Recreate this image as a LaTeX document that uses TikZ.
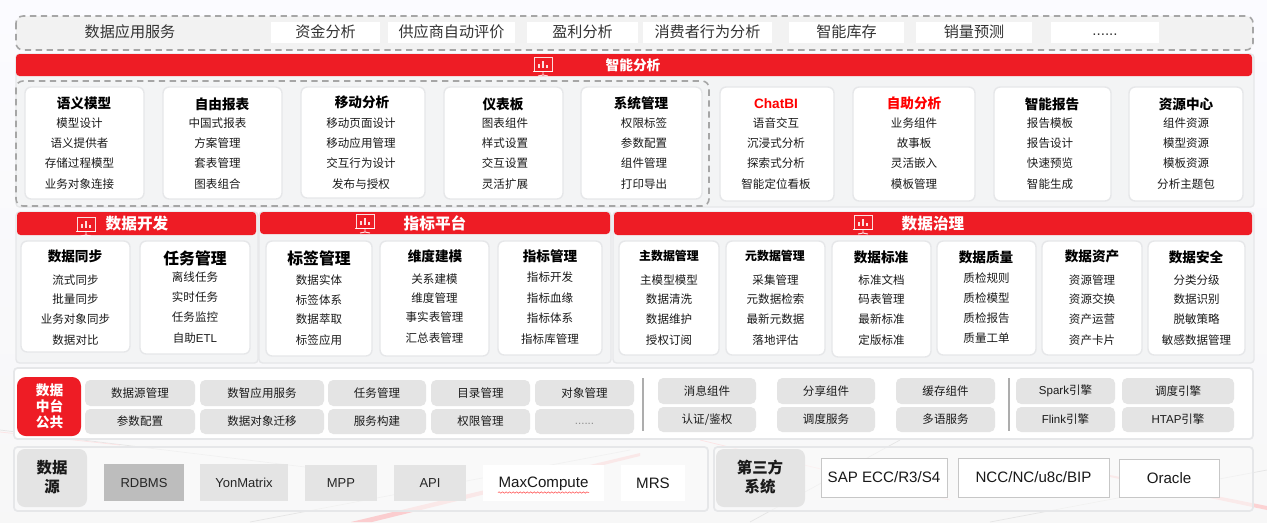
\documentclass[tikz,border=0pt]{standalone}
\usepackage{xcolor}
\usepackage{fontspec}
\setmainfont{Noto Sans CJK SC}
\newfontfamily\latfont{Liberation Sans}
\usetikzlibrary{decorations.pathmorphing}
\definecolor{brandred}{HTML}{EE1C25}
\definecolor{panelgray}{HTML}{F3F4F5}
\definecolor{panelline}{HTML}{E6E7E9}
\definecolor{boxgray}{HTML}{E4E4E4}
\definecolor{dashgray}{HTML}{A6A6A6}
\definecolor{textdark}{HTML}{1A1A1A}
\newcommand{\moredots}{{\latfont\vphantom{x}......}}
\tikzset{
    panel/.style={fill=panelgray,draw=panelline,line width=0.8pt,rounded corners=2pt},
    dashbox/.style={draw=dashgray,line width=0.9pt,dash pattern=on 3.6pt off 2.6pt,rounded corners=4pt},
    redbar/.style={fill=brandred,rounded corners=2pt},
    cardbox/.style={fill=white,draw=panelline,line width=0.8pt,rounded corners=3.5pt},
    graybox/.style={fill=boxgray,rounded corners=3pt},
    flatbox/.style={fill=boxgray},
    framebox/.style={fill=white,draw=black!22,line width=0.5pt},
    sepline/.style={draw=black!32,line width=1.1pt},
    item/.style={inner sep=0pt,text=textdark,font=\fontsize{6.55}{8}\selectfont},
    cardtitle/.style={inner sep=0pt,text=black,font=\fontsize{7.75}{9}\selectfont\bfseries},
    smalltitle/.style={cardtitle,font=\fontsize{6.8}{8}\selectfont\bfseries},
    bigtitle/.style={inner sep=0pt,text=black,font=\fontsize{9}{10}\selectfont\bfseries},
    redtitle/.style={cardtitle,text=red},
    toptext/.style={inner sep=0pt,text=black!80,font=\fontsize{8.6}{10}\selectfont},
    barlabel/.style={inner sep=0pt,text=white,font=\fontsize{8.9}{10}\selectfont\bfseries},
    srctext/.style={inner sep=0pt,text=black!85,font=\fontsize{7.4}{9}\latfont},
    srcbig/.style={inner sep=0pt,text=black!90,font=\fontsize{8.6}{10}\latfont},
    blocklabel/.style={inner sep=0pt,align=center,text=textdark,font=\fontsize{8.8}{11}\selectfont\bfseries},
}
\newcommand{\cardcol}[8][]{% item options, name, x0, x1, y0, y1, title node, rows
    \path[cardbox] (#3,#5) rectangle (#4,#6);
    #7
    \foreach \yy/\txt [count=\i] in {#8}
        \node[item,name=#2-\i,#1] at ({(#3+#4)/2},\yy) {\txt};
}
\newcommand{\boardicon}[3]{% name, x, y
    \begin{scope}[shift={(#2,#3)},draw=white,line width=0.55pt,opacity=0.85]
        \coordinate (#1) at (0,0);
        \draw (-9,-8) rectangle (9,6);
        \draw (-10,6) -- (10,6);
        \draw (0,6) -- (0,10) (0,10) -- (-5,11) (0,10) -- (5,11);
        \draw[line width=1pt] (-4,3) -- (-4,-1) (0,3) -- (0,-4) (4,3) -- (4,0);
    \end{scope}
}
\begin{document}
\begin{tikzpicture}[x=0.02cm,y=-0.02cm]
    \useasboundingbox (0,0) rectangle (1267,522);
    \shade[top color=white!96!blue!40!white,bottom color=black!3] (0,0) rectangle (1267,522);
    \fill[brandred!22] (351,522) -- (640,453) -- (640,456) -- (372,522) -- cycle;
    \fill[brandred!20] (1110,475) -- (1267,506) -- (1267,510) -- (1110,477) -- cycle;
    \draw[black!10] (0,430) -- (330,470) (750,522) -- (900,440) (990,522) -- (1267,470) (630,450) -- (250,522);
    \draw[brandred!12] (0,432) -- (120,445) (700,440) -- (950,500);

    % top row
    \path[fill=black!5,dashbox] (16,16) rectangle (1253,50);
    \node[toptext] (apptitle) at (130,32) {数据应用服务};
    \foreach \xa/\xb/\txt [count=\i] in {271/380/资金分析,388/515/供应商自动评价,527/638/盈利分析,643/772/消费者行为分析,789/904/智能库存,916/1032/销量预测,1051/1159/\moredots}{
        \fill[white] (\xa,22) rectangle (\xb,43);
        \node[toptext,name=app\i] at ({(\xa+\xb)/2},32) {\txt};
    }

    % analysis
    \path[panel] (16,54) rectangle (1254,207);
    \path[redbar] (16,54) rectangle (1252,76);
    \boardicon{iconai}{543}{65}
    \node[barlabel,font=\fontsize{7.8}{9}\selectfont\bfseries] (aititle) at (633,65) {智能分析};
    \path[dashbox] (16,81) rectangle (709,206);
    \cardcol[xshift=-0.1cm]{sem}{25}{144}{87}{199}{\node[cardtitle] (semt) at (84,103) {语义模型};}{123/模型设计,143/语义提供者,163/存储过程模型,184/业务对象连接}
    \cardcol[xshift=-0.1cm]{rep}{163}{282}{87}{199}{\node[cardtitle] (rept) at (222,104) {自由报表};}{123/中国式报表,143/方案管理,163/套表管理,184/图表组合}
    \cardcol[xshift=-0.04cm]{mob}{301}{425}{87}{198}{\node[cardtitle] (mobt) at (362,102) {移动分析};}{123/移动页面设计,143/移动应用管理,163/交互行为设计,184/发布与授权}
    \cardcol[xshift=0.03cm]{dash}{444}{563}{87}{199}{\node[cardtitle] (dasht) at (503,104) {仪表板};}{123/图表组件,143/样式设置,163/交互设置,184/灵活扩展}
    \cardcol[xshift=0.05cm]{sys}{581}{702}{87}{199}{\node[cardtitle] (syst) at (641,103) {系统管理};}{123/权限标签,143/参数配置,163/组件管理,184/打印导出}
    \cardcol[xshift=-0.02cm]{chat}{720}{834}{87}{201}{\node[redtitle,font=\fontsize{7.75}{9}\latfont\bfseries] (chatt) at (776,104) {ChatBI};}{123/语音交互,143/沉浸式分析,163/探索式分析,184/智能定位看板}
    \cardcol{self}{853}{975}{87}{201}{\node[redtitle] (selft) at (914,103) {自助分析};}{123/业务组件,143/故事板,163/灵活嵌入,184/模板管理}
    \cardcol[xshift=-0.05cm]{ins}{994}{1111}{87}{201}{\node[cardtitle] (inst) at (1052,104) {智能报告};}{123/报告模板,143/报告设计,163/快速预览,184/智能生成}
    \cardcol{res}{1129}{1243}{87}{201}{\node[cardtitle] (rest) at (1186,104) {资源中心};}{123/组件资源,143/模型资源,163/模板资源,184/分析主题包}

    % development
    \path[panel] (16,212) rectangle (258,363);
    \path[redbar] (17,212) rectangle (256,235);
    \boardicon{icondev}{86}{225}
    \node[barlabel] (devtitle) at (137,224) {数据开发};
    \cardcol{sync}{21}{130}{241}{352}{\node[cardtitle] (synct) at (75,256) {数据同步};}{280/流式同步,299/批量同步,319/业务对象同步,340/数据对比}
    \cardcol{task}{140}{250}{241}{354}{\node[bigtitle] (taskt) at (195,258) {任务管理};}{277/离线任务,297/实时任务,317/任务监控,338/{自助{\latfont ETL}}}

    % metrics
    \path[panel] (259,212) rectangle (611,363);
    \path[redbar] (260,212) rectangle (610,234);
    \boardicon{iconmet}{365}{222}
    \node[barlabel] (mettitle) at (435,223) {指标平台};
    \cardcol{tag}{266}{372}{241}{356}{\node[bigtitle] (tagt) at (319,258) {标签管理};}{280/数据实体,300/标签体系,319/数据萃取,340/标签应用}
    \cardcol{dim}{380}{489}{241}{356}{\node[cardtitle] (dimt) at (435,256) {维度建模};}{279/关系建模,298/维度管理,317/事实表管理,338/汇总表管理}
    \cardcol{met}{498}{602}{241}{355}{\node[cardtitle] (mett) at (550,256) {指标管理};}{277/指标开发,298/指标血缘,318/指标体系,339/指标库管理}

    % governance
    \path[panel] (613,212) rectangle (1254,363);
    \path[redbar] (614,212) rectangle (1252,235);
    \boardicon{icongov}{863}{223}
    \node[barlabel] (govtitle) at (933,224) {数据治理};
    \cardcol{mdm}{619}{719}{241}{355}{\node[smalltitle] (mdmt) at (669,256) {主数据管理};}{280/主模型模型,299/数据清洗,319/数据维护,340/授权订阅}
    \cardcol{meta}{726}{825}{241}{355}{\node[smalltitle] (metat) at (775,256) {元数据管理};}{280/采集管理,299/元数据检索,319/最新元数据,340/落地评估}
    \cardcol{std}{832}{931}{241}{357}{\node[cardtitle] (stdt) at (881,257) {数据标准};}{280/标准文档,299/码表管理,319/最新标准,340/定版标准}
    \cardcol{qual}{937}{1036}{241}{355}{\node[cardtitle] (qualt) at (986,257) {数据质量};}{278/质检规则,298/质检模型,318/质检报告,338/质量工单}
    \cardcol{asset}{1042}{1142}{241}{355}{\node[cardtitle] (assett) at (1092,256) {数据资产};}{280/资源管理,299/资源交换,319/资产运营,340/资产卡片}
    \cardcol{sec}{1148}{1245}{241}{355}{\node[cardtitle] (sect) at (1196,257) {数据安全};}{280/分类分级,299/数据识别,319/脱敏策略,340/敏感数据管理}

    % public services
    \path[fill=white,draw=panelline,line width=1pt,rounded corners=2pt] (14,368) rectangle (1253,439);
    \path[fill=brandred,rounded corners=5pt] (17,377) rectangle (81,436);
    \node[barlabel,align=center,font=\fontsize{7.8}{9.1}\selectfont\bfseries] (pubtitle) at (49.5,406) {数据\\中台\\公共};
    \foreach \xa/\xb/\ya/\yb/\txt [count=\i] in {85/195/380/406/数据源管理,200/324/380/406/数智应用服务,328/426/380/406/任务管理,431/530/380/406/目录管理,535/634/380/406/对象管理,85/195/409/434/参数配置,200/324/409/434/数据对象迁移,328/426/409/434/服务构建,431/530/409/434/权限管理,535/634/409/434/{\color{black!45}\moredots},658/756/378/404/消息组件,777/875/378/404/分享组件,896/995/378/404/缓存组件,658/756/407/432/{认证\slash 鉴权},777/875/407/432/调度服务,896/995/407/432/多语服务,1016/1115/378/404/{{\latfont Spark}引擎},1122/1234/378/404/调度引擎,1016/1115/407/432/{{\latfont Flink}引擎},1122/1234/407/432/{{\latfont HTAP}引擎}}{
        \path[graybox] (\xa,\ya) rectangle (\xb,\yb);
        \node[item,name=pub\i] at ({(\xa+\xb)/2},{(\ya+\yb)/2}) {\txt};
    }
    \draw[sepline] (643,378) -- (643,431);
    \draw[sepline] (1009,378) -- (1009,431);

    % sources
    \path[fill=black!2,fill opacity=0.6,draw=panelline,line width=1pt,rounded corners=2pt] (14,447) rectangle (708,511);
    \path[fill=black!2,fill opacity=0.6,draw=panelline,line width=1pt,rounded corners=2pt] (714,447) rectangle (1253,511);
    \path[graybox,rounded corners=4.5pt] (17,449) rectangle (87,507);
    \node[blocklabel] (srctitle) at (52,477) {数据\\源};
    \path[graybox,rounded corners=4.5pt] (716,449) rectangle (805,507);
    \node[blocklabel] (thirdtitle) at (760,477) {第三方\\系统};
    \path[fill=black!26] (104,464) rectangle (184,501);
    \node[srctext] (rdbms) at (144,483) {RDBMS};
    \path[flatbox] (200,464) rectangle (288,501);
    \node[srctext] (yon) at (244,483) {YonMatrix};
    \path[flatbox] (305,465) rectangle (377,501);
    \node[srctext] (mpp) at (341,483) {MPP};
    \path[flatbox] (394,465) rectangle (466,501);
    \node[srctext] (api) at (430,483) {API};
    \fill[white] (483,465) rectangle (604,501);
    \node[srcbig] (maxc) at (543.5,484) {MaxCompute};
    \draw[red!70,line width=0.3pt,decorate,decoration={snake,amplitude=0.4pt,segment length=2pt}] (498,492.5) -- (589,492.5);
    \fill[white] (621,465) rectangle (685,501);
    \node[srcbig] (mrs) at (653,483) {MRS};
    \path[framebox] (821,458) rectangle (947,497);
    \node[srcbig] (sap) at (884,477) {SAP ECC/R3/S4};
    \path[framebox] (958,458) rectangle (1109,497);
    \node[srcbig] (ncc) at (1033.5,477) {NCC/NC/u8c/BIP};
    \path[framebox] (1119,459) rectangle (1219,497);
    \node[srcbig] (ora) at (1169,478) {Oracle};
\end{tikzpicture}
\end{document}
